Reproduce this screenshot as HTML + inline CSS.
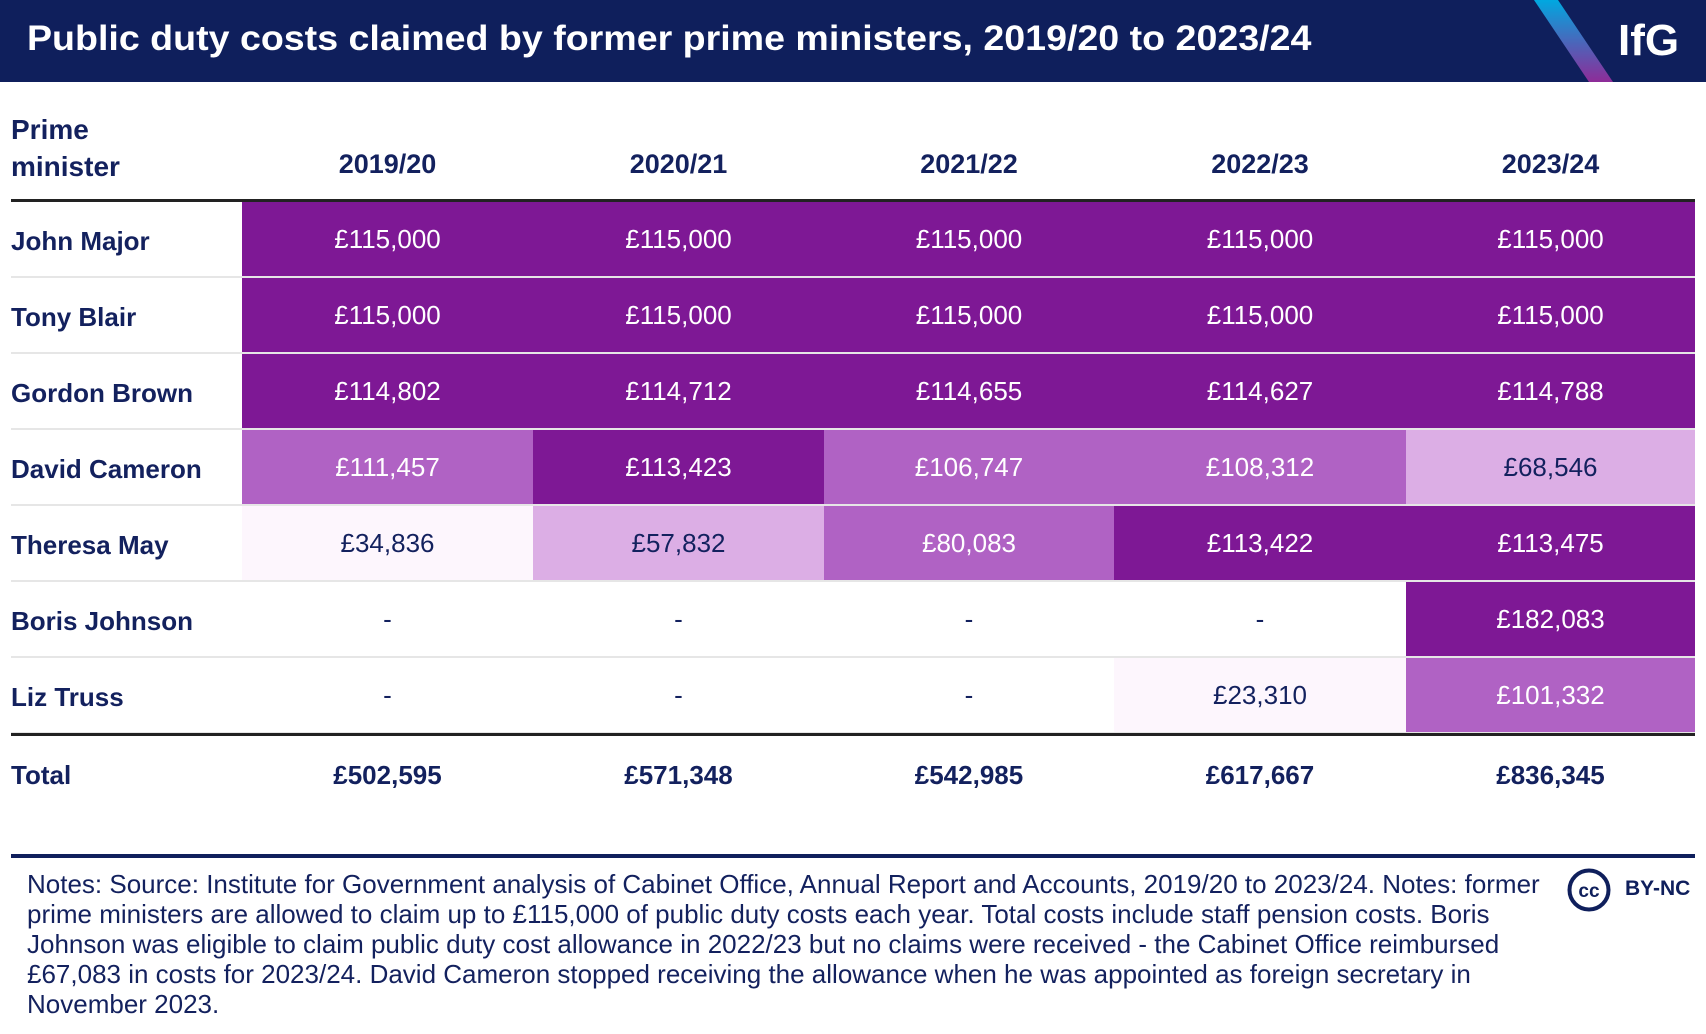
<!DOCTYPE html>
<html><head><meta charset="utf-8">
<style>
body{margin:0;width:1706px;height:1034px;background:#fff;font-family:"Liberation Sans",sans-serif;color:#13215e;position:relative;overflow:hidden}
#hdr{position:absolute;left:0;top:0;width:1706px;height:82px;background:#0f1f5c;overflow:hidden}
#title{position:absolute;left:27px;top:19px;font-size:35px;font-weight:bold;color:#fff;white-space:nowrap;transform-origin:0 0}
#logo{position:absolute;left:1618px;top:16px;font-size:44px;font-weight:bold;color:#fff}
.abs{position:absolute;white-space:nowrap}
.hd{font-size:27px;font-weight:bold}
.rn{font-size:26px;font-weight:bold}
.cell{position:absolute;display:flex;align-items:center;justify-content:center;font-size:26px}
#notes{position:absolute;left:27px;top:869px;font-size:26px;line-height:30px;color:#13215e;white-space:nowrap}
</style></head><body>
<div id="hdr">
<div id="title">Public duty costs claimed by former prime ministers, 2019/20 to 2023/24</div>
<svg class="abs" style="left:1520px;top:0" width="120" height="82">
<defs><linearGradient id="g" x1="0" y1="0" x2="0" y2="1"><stop offset="0" stop-color="#00a8e0"/><stop offset="0.55" stop-color="#4f62b8"/><stop offset="1" stop-color="#8e2c98"/></linearGradient></defs>
<polygon points="14,0 38,0 93,82 69,82" fill="url(#g)"/></svg>
<div id="logo">IfG</div>
</div>
<div id="table"></div>
<div class="abs" style="left:11px;top:854px;width:1684px;height:4px;background:#0f1f5c"></div>
<div id="notes">Notes: Source: Institute for Government analysis of Cabinet Office, Annual Report and Accounts, 2019/20 to 2023/24. Notes: former<br>prime ministers are allowed to claim up to £115,000 of public duty costs each year. Total costs include staff pension costs. Boris<br>Johnson was eligible to claim public duty cost allowance in 2022/23 but no claims were received - the Cabinet Office reimbursed<br>£67,083 in costs for 2023/24. David Cameron stopped receiving the allowance when he was appointed as foreign secretary in<br>November 2023.</div>
<svg class="abs" style="left:1566px;top:867px" width="46" height="46"><circle cx="23" cy="23" r="19.5" fill="none" stroke="#0f1f5c" stroke-width="4"/><text x="23" y="30" text-anchor="middle" font-family="Liberation Sans" font-weight="bold" font-size="19" fill="#0f1f5c">cc</text></svg>
<div class="abs" style="left:1625px;top:877px;font-size:21px;font-weight:bold;color:#0f1f5c">BY-NC</div>
<script>
const years=["2019/20","2020/21","2021/22","2022/23","2023/24"];
const names=["John Major","Tony Blair","Gordon Brown","David Cameron","Theresa May","Boris Johnson","Liz Truss"];
const johnMajor=[115000,115000,115000,115000,115000];
const tonyBlair=[115000,115000,115000,115000,115000];
const gordonBrown=[114802,114712,114655,114627,114788];
const davidCameron=[111457,113423,106747,108312,68546];
const theresaMay=[34836,57832,80083,113422,113475];
const borisJohnson=[null,null,null,null,182083];
const lizTruss=[null,null,null,23310,101332];
const totals=[502595,571348,542985,617667,836345];
const values=[johnMajor,tonyBlair,gordonBrown,davidCameron,theresaMay,borisJohnson,lizTruss];
const tt=document.getElementById('title');tt.style.transform='scaleX('+(1284/tt.offsetWidth)+')';
const T=document.getElementById('table');
const colX=[242,533,824,1114,1406,1695];
const rowTop=202, rowH=76;
const fmt=v=>'£'+v.toLocaleString('en-GB');
function color(v){if(v>=112000)return['#7e1895','#fff'];if(v>=75000)return['#b062c4','#fff'];if(v>=40000)return['#dcaee5','#13215e'];return['#fdf6fd','#13215e'];}
function add(cls,style,text){const d=document.createElement('div');d.className=cls;d.style.cssText=style;d.textContent=text;T.appendChild(d);return d;}
let e=add('abs hd','left:11px;top:111px;line-height:37px;font-size:28px','');e.innerHTML='Prime<br>minister';


years.forEach((y,i)=>{const c=(colX[i]+colX[i+1])/2;const d=add('abs hd',`left:${c-100}px;width:200px;text-align:center;top:149px`,y);

});
let r=add('abs','left:11px;top:199px;width:1684px;height:3px;background:#222','');


names.forEach((n,ri)=>{const top=rowTop+ri*rowH;
 const sep=add('abs',`left:11px;top:${top+rowH-2}px;width:1684px;height:2px;background:#e6e6e6`,'');
 
 
 const l=add('abs rn',`left:11px;top:${top+24}px`,n);
 
 
 values[ri].forEach((v,ci)=>{let bg='transparent',fg='#13215e',t='-';if(v!=null){[bg,fg]=color(v);t=fmt(v);}
  const c=add('cell',`left:${colX[ci]}px;top:${top}px;width:${colX[ci+1]-colX[ci]}px;height:${rowH-2}px;background:${bg};color:${fg}`,t);
  
  });
});
const bt=rowTop+names.length*rowH;
r=add('abs',`left:11px;top:${bt-1}px;width:1684px;height:3px;background:#222`,'');


e=add('abs rn',`left:11px;top:${bt+26}px`,'Total');


totals.forEach((v,i)=>{const c=(colX[i]+colX[i+1])/2;const d=add('abs rn',`left:${c-100}px;width:200px;text-align:center;top:${bt+26}px`,fmt(v));

});
</script>
</body></html>
